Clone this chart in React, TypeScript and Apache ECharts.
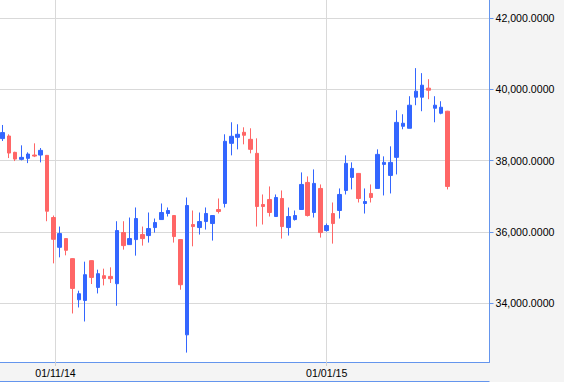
import React, { useEffect, useRef } from 'react';
import * as echarts from 'echarts';

// Trading days shown (one candle each)
const dates: string[] = [
  '2014-10-21', '2014-10-22', '2014-10-23', '2014-10-24', '2014-10-27', '2014-10-28', '2014-10-29', '2014-10-30', '2014-10-31',
  '2014-11-03', '2014-11-04', '2014-11-05', '2014-11-06', '2014-11-07', '2014-11-10', '2014-11-11', '2014-11-12', '2014-11-13', '2014-11-14',
  '2014-11-17', '2014-11-18', '2014-11-19', '2014-11-20', '2014-11-21', '2014-11-24', '2014-11-25', '2014-11-26', '2014-11-27', '2014-11-28',
  '2014-12-01', '2014-12-02', '2014-12-03', '2014-12-04', '2014-12-05', '2014-12-08', '2014-12-09', '2014-12-10', '2014-12-11', '2014-12-12',
  '2014-12-15', '2014-12-16', '2014-12-17', '2014-12-18', '2014-12-19', '2014-12-22', '2014-12-23', '2014-12-24', '2014-12-26',
  '2014-12-29', '2014-12-30', '2014-12-31', '2015-01-01', '2015-01-02', '2015-01-05', '2015-01-06', '2015-01-07', '2015-01-08', '2015-01-09',
  '2015-01-12', '2015-01-13', '2015-01-14', '2015-01-15', '2015-01-16', '2015-01-19', '2015-01-20', '2015-01-21', '2015-01-22', '2015-01-23',
  '2015-01-26', '2015-01-27', '2015-01-28',
];

const openValues: number[] = [
  38620, 38693, 38234, 38037, 38065, 38158, 38158, 38149, 36403, 35566,
  35811, 35248, 34093, 34073, 35192, 34439, 34769, 34749, 34544, 35980,
  35642, 35783, 35924, 35896, 36121, 36346, 36516, 36459, 35783, 33107,
  36206, 36121, 36290, 36234, 36628, 36797, 38487, 38656, 38797, 38600,
  38206, 36769, 36910, 36431, 36938, 36121, 36346, 36628, 37389, 36544,
  37220, 36037, 36515, 36600, 37163, 37530, 37642, 36797, 37079, 37220,
  37896, 37586, 38093, 38966, 38910, 39783, 39783, 40037, 39473, 39332,
  39389,
];

const closeValues: number[] = [
  38789, 38214, 38045, 38093, 38186, 38130, 38290, 36580, 35791, 35952,
  35482, 34411, 34262, 34797, 34721, 34825, 34693, 34684, 36037, 35614,
  35811, 36375, 35811, 36093, 36262, 36544, 36600, 35868, 34515, 36741,
  36149, 36290, 36516, 36459, 36572, 38544, 38685, 38741, 38713, 38318,
  36713, 36713, 36544, 36966, 36149, 36431, 36459, 37332, 36459, 37361,
  35980, 36177, 36234, 37051, 37924, 37783, 36938, 36853, 36966, 38177,
  37952, 37952, 39076, 39051, 39558, 39952, 40121, 39980, 39558, 39501,
  37276,
];

const lowValues: number[] = [
  38552, 38073, 37989, 38008, 37932, 38101, 37952, 36299, 35115, 35284,
  35341, 33707, 33876, 33482, 34535, 34270, 34496, 34563, 33924, 35501,
  35642, 35332, 35614, 35699, 35980, 36346, 36431, 35699, 34374, 32608,
  35594, 35924, 36065, 35755, 36516, 36685, 38149, 38318, 38459, 38206,
  36149, 36206, 36431, 36431, 35811, 35896, 36318, 36628, 36431, 36403,
  35839, 36008, 35670, 36375, 37051, 37192, 36825, 36515, 36825, 37220,
  37023, 37079, 37614, 38882, 38910, 39558, 39389, 39727, 39079, 39304,
  37192,
];

const highValues: number[] = [
  39003, 38741, 38250, 38431, 38234, 38487, 38355, 38160, 36459, 36149,
  35820, 35260, 34347, 35163, 35200, 34938, 34966, 35003, 36299, 36299,
  36403, 36685, 36149, 36544, 36375, 36797, 36685, 36470, 35790, 36966,
  36600, 36544, 36685, 36470, 36938, 38741, 39079, 39023, 38938, 38910,
  38628, 37051, 37276, 37051, 37163, 36684, 36600, 37670, 37558, 37755,
  37332, 36234, 36825, 37220, 38149, 37952, 37650, 37220, 37332, 38318,
  38121, 38403, 39417, 39304, 39811, 40600, 40459, 40290, 39811, 39670,
  39400,
];

// Date ticks on the x axis
const xTickDates: string[] = ['2014-11-01', '2015-01-01'];
// Price ticks on the y axis
const yTickValues: number[] = [34000, 36000, 38000, 40000, 42000];

const UP = '#3366ff';
const DOWN = '#ff6666';
const FRAME = '#6495ed';
const GRIDLINE = '#d9d9d9';
const FONT = "'Liberation Sans', Arial, sans-serif";

const toT = (s: string) => Date.UTC(+s.slice(0, 4), +s.slice(5, 7) - 1, +s.slice(8, 10));

function dateToIndex(s: string): number {
  const t = toT(s);
  for (let i = 0; i < dates.length - 1; i++) {
    const a = toT(dates[i]);
    const b = toT(dates[i + 1]);
    if (t >= a && t <= b) return i + (t - a) / (b - a);
  }
  return 0;
}

const fmtDate = (s: string) => `${s.slice(8, 10)}/${s.slice(5, 7)}/${s.slice(2, 4)}`;

const App = () => {
  const ref = useRef<HTMLDivElement>(null);

  useEffect(() => {
    if (!ref.current) return;
    const chart = echarts.init(ref.current, null, { renderer: 'svg' });

    const xTickIdx = xTickDates.map(dateToIndex);
    const labelFor = (v: number) => {
      let best = 0;
      let bd = Infinity;
      xTickIdx.forEach((ix, k) => {
        const d = Math.abs(ix - v);
        if (d < bd) { bd = d; best = k; }
      });
      return fmtDate(xTickDates[best]);
    };

    const rows = dates.map((_, i) => [i, openValues[i], closeValues[i], lowValues[i], highValues[i]]);

    chart.setOption({
      animation: false,
      backgroundColor: '#f4f4f4',
      grid: {
        show: true,
        left: 0,
        top: 0,
        width: 489.5,
        height: 362,
        backgroundColor: '#ffffff',
        borderWidth: 0,
      },
      xAxis: {
        type: 'value',
        min: -0.393,
        max: 76.6,
        position: 'bottom',
        axisLine: { show: true, onZero: false, lineStyle: { color: FRAME, width: 1 } },
        axisTick: { show: true, customValues: xTickIdx, length: 4, lineStyle: { color: '#cfcfcf' } },
        axisLabel: {
          customValues: xTickIdx,
          formatter: (v: number) => labelFor(v),
          margin: 5,
          color: '#000',
          fontFamily: FONT,
          fontSize: 10.6,
        },
        splitLine: { show: true, lineStyle: { color: GRIDLINE, width: 1 } },
      },
      yAxis: {
        type: 'value',
        position: 'right',
        min: 32344,
        max: 42514,
        scale: true,
        axisLine: { show: true, onZero: false, lineStyle: { color: FRAME, width: 1 } },
        axisTick: { show: true, customValues: yTickValues, length: 4, lineStyle: { color: FRAME } },
        axisLabel: {
          customValues: yTickValues,
          formatter: (v: number) =>
            v.toLocaleString('en-US', { minimumFractionDigits: 4, maximumFractionDigits: 4 }),
          margin: 6,
          color: '#000',
          fontFamily: FONT,
          fontSize: 10.6,
        },
        splitLine: { show: true, lineStyle: { color: GRIDLINE, width: 1 } },
      },
      graphic: [
        {
          type: 'line',
          shape: { x1: 0, y1: 381.5, x2: 489.5, y2: 381.5 },
          style: { stroke: FRAME, lineWidth: 1 },
          silent: true,
        },
      ],
      series: [
        {
          type: 'candlestick',
          data: rows,
          encode: { x: 0, y: [1, 2, 3, 4] },
          barWidth: 4,
          itemStyle: {
            color: UP,
            color0: DOWN,
            borderColor: UP,
            borderColor0: DOWN,
            borderWidth: 1,
          },
        },
      ],
    });

    return () => chart.dispose();
  }, []);

  return (
    <div
      ref={ref}
      style={{ position: 'fixed', left: 0, top: 0, width: 564, height: 382 }}
    />
  );
};

export default App;
